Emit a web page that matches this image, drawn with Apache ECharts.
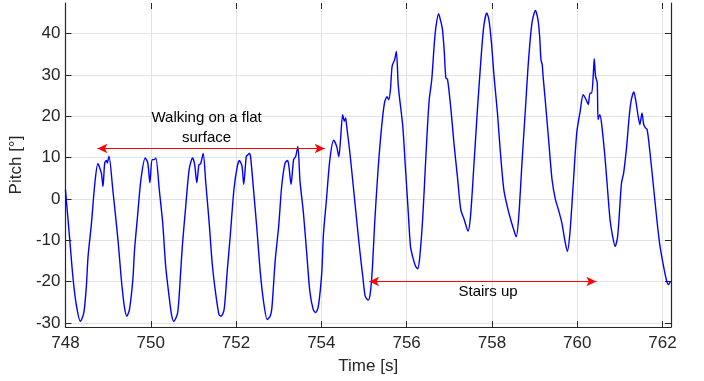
<!DOCTYPE html>
<html>
<head>
<meta charset="utf-8">
<script src="https://cdn.jsdelivr.net/npm/echarts@6/dist/echarts.min.js"></script>
<style>html,body{margin:0;padding:0;background:#fff;}#chart{width:704px;height:381px;}</style>
</head>
<body>
<div id="chart"></div>
<script>
const time = [748.00,748.10,748.18,748.26,748.35,748.43,748.49,748.53,748.61,748.69,748.76,748.84,748.88,748.92,748.96,748.98,749.02,749.11,749.23,749.31,749.38,749.44,749.50,749.58,749.62,749.69,749.77,749.87,749.93,749.98,750.03,750.08,750.12,750.20,750.28,750.35,750.43,750.49,750.54,750.63,750.70,750.74,750.82,750.90,750.98,751.03,751.08,751.13,751.17,751.23,751.29,751.37,751.44,751.52,751.60,751.65,751.72,751.79,751.87,751.95,752.03,752.08,752.14,752.18,752.24,752.28,752.31,752.34,752.41,752.49,752.57,752.65,752.73,752.80,752.84,752.92,753.00,753.07,753.15,753.21,753.24,753.29,753.35,753.40,753.45,753.50,753.58,753.66,753.73,753.81,753.87,753.93,754.01,754.05,754.12,754.20,754.29,754.36,754.41,754.45,754.50,754.54,754.57,754.59,754.67,754.75,754.82,754.90,754.98,755.03,755.10,755.15,755.20,755.25,755.33,755.41,755.48,755.54,755.58,755.62,755.66,755.72,755.76,755.80,755.83,755.91,755.97,756.03,756.09,756.14,756.21,756.26,756.31,756.38,756.44,756.49,756.53,756.59,756.65,756.69,756.75,756.80,756.84,756.88,756.92,756.96,757.04,757.11,757.19,757.27,757.35,757.44,757.50,757.58,757.66,757.74,757.81,757.88,757.93,757.99,758.05,758.13,758.20,758.28,758.36,758.44,758.51,758.57,758.63,758.71,758.79,758.86,758.94,759.02,759.08,759.12,759.15,759.18,759.20,759.25,759.33,759.41,759.49,759.56,759.64,759.72,759.77,759.83,759.91,759.99,760.07,760.14,760.21,760.26,760.30,760.34,760.38,760.40,760.43,760.47,760.49,760.53,760.57,760.65,760.70,760.77,760.83,760.89,760.95,761.00,761.04,761.09,761.16,761.22,761.27,761.33,761.37,761.43,761.47,761.52,761.56,761.60,761.64,761.70,761.78,761.86,761.93,762.01,762.09,762.14,762.19];
const pitch = [2.2,-9.8,-19.5,-26.0,-29.6,-27.6,-21.1,-13.9,-5.8,3.9,8.5,6.3,3.0,8.7,9.3,8.7,10.3,2.2,-9.8,-19.5,-26.0,-28.4,-26.8,-19.5,-12.3,-4.2,4.7,9.9,8.7,3.9,9.5,9.5,9.9,2.2,-5.8,-16.3,-23.6,-28.2,-29.6,-27.6,-17.9,-11.5,-1.8,7.1,9.9,8.3,3.9,8.3,8.5,11.0,3.9,-5.8,-15.5,-22.7,-28.0,-28.4,-26.8,-17.9,-8.2,2.2,7.9,9.3,7.9,3.5,10.3,10.7,11.0,10.3,2.2,-7.4,-17.9,-25.2,-29.2,-28.4,-26.5,-14.7,-6.6,3.0,8.7,9.3,7.9,3.5,9.5,10.3,12.7,4.3,-3.4,-13.5,-22.3,-26.8,-27.5,-26.0,-17.9,-8.5,-0.2,9.5,14.2,12.7,10.2,14.3,20.4,18.8,19.6,18.0,11.1,3.0,-4.2,-12.3,-19.5,-23.6,-24.5,-22.7,-16.3,-6.0,7.0,17.0,23.2,24.7,24.0,26.4,32.1,33.7,35.7,28.1,24.8,17.6,7.9,-1.8,-11.5,-13.9,-16.3,-16.9,-13.9,-4.2,7.9,17.6,24.0,28.9,37.7,41.8,44.8,43.0,41.0,36.1,29.3,28.9,21.6,13.5,5.5,-2.6,-5.0,-7.8,-4.0,8.5,21.5,33.3,41.8,45.0,43.4,37.7,29.7,20.8,11.1,2.2,-1.8,-5.0,-7.4,-9.2,-4.2,9.5,22.4,33.7,42.6,45.6,43.4,39.3,33.7,32.5,29.7,24.0,14.3,4.7,-0.2,-2.6,-5.8,-10.6,-12.7,-8.2,4.0,16.0,21.2,25.2,24.0,22.8,25.6,25.6,30.5,33.9,29.7,28.1,19.2,20.4,18.4,10.3,3.9,-5.0,-9.0,-11.5,-9.0,-1.8,3.9,6.3,12.7,20.0,24.0,25.9,24.0,20.0,18.0,20.8,18.0,17.2,16.8,11.9,3.9,-4.2,-10.6,-15.5,-19.5,-20.7,-19.9];
const xTicks = [748,750,752,754,756,758,760,762];
const yTicks = [-30,-20,-10,0,10,20,30,40];
const walkArrow = [[748.75,12.2],[754.08,12.2]];
const stairsArrow = [[755.12,-20.0],[760.45,-20.0]];
const walkLabel = {text:'Walking on a flat\nsurface', t:751.31, v:17.3};
const stairsLabel = {text:'Stairs up', t:757.91, v:-22.4};

const FONT = '"Liberation Sans", Arial, Helvetica, sans-serif';
const DARK = '#262626';
const chart = echarts.init(document.getElementById('chart'), null, {renderer:'canvas'});
const data = time.map((t,i)=>[t,pitch[i]]);
const xMin = 748, xMax = 762.2, yMin = -31, yMax = 47.4;

function tick(vals){
  return {show:true, inside:true, length:6, customValues:vals, lineStyle:{color:DARK, width:1}};
}

chart.setOption({
  animation:false,
  backgroundColor:'#ffffff',
  grid:{left:62, right:33, top:3, bottom:54, containLabel:false},
  xAxis:[
    {
      type:'value', position:'bottom', min:xMin, max:xMax,
      name:'Time [s]', nameLocation:'middle', nameGap:31,
      nameTextStyle:{fontFamily:FONT, fontSize:17, color:DARK},
      axisLine:{show:true, onZero:false, lineStyle:{color:DARK, width:1.2}},
      axisTick:tick(xTicks),
      axisLabel:{customValues:xTicks, fontFamily:FONT, fontSize:17, color:DARK, margin:8},
      splitLine:{show:true, lineStyle:{color:'#e3e3e3', width:1}}
    },
    {
      type:'value', position:'top', min:xMin, max:xMax,
      axisLine:{show:false, onZero:false},
      axisTick:tick(xTicks),
      axisLabel:{show:false},
      splitLine:{show:false}
    }
  ],
  yAxis:[
    {
      type:'value', position:'left', min:yMin, max:yMax,
      name:'Pitch [°]', nameLocation:'middle', nameGap:30, nameRotate:90,
      nameTextStyle:{fontFamily:FONT, fontSize:17, color:DARK},
      axisLine:{show:true, onZero:false, lineStyle:{color:DARK, width:1.2}},
      axisTick:tick(yTicks),
      axisLabel:{customValues:yTicks, fontFamily:FONT, fontSize:17, color:DARK, margin:5},
      splitLine:{show:true, lineStyle:{color:'#e3e3e3', width:1}}
    },
    {
      type:'value', position:'right', min:yMin, max:yMax,
      axisLine:{show:true, onZero:false, lineStyle:{color:DARK, width:1.2}},
      axisTick:tick(yTicks),
      axisLabel:{show:false},
      splitLine:{show:false}
    }
  ],
  series:[{
    type:'line',
    data:data,
    xAxisIndex:0, yAxisIndex:0,
    showSymbol:false, symbol:'none',
    smooth:0.25,
    clip:true,
    lineStyle:{color:'#0000ff', width:1.4},
    markLine:{
      silent:true, animation:false,
      symbol:['arrow','arrow'], symbolSize:[7,10],
      lineStyle:{color:'#ff0000', width:1, type:'solid'},
      label:{show:false},
      data:[
        [{coord:walkArrow[0]},{coord:walkArrow[1]}],
        [{coord:stairsArrow[0]},{coord:stairsArrow[1]}]
      ]
    },
    markPoint:{
      silent:true, animation:false,
      symbol:'circle', symbolSize:0,
      label:{show:true, position:'inside', fontFamily:FONT, fontSize:15, color:'#000', lineHeight:20, align:'center', verticalAlign:'middle'},
      data:[
        {coord:[walkLabel.t, walkLabel.v], value:walkLabel.text, label:{formatter:walkLabel.text}},
        {coord:[stairsLabel.t, stairsLabel.v], value:stairsLabel.text, label:{formatter:stairsLabel.text}}
      ]
    }
  }]
});
</script>
</body>
</html>
